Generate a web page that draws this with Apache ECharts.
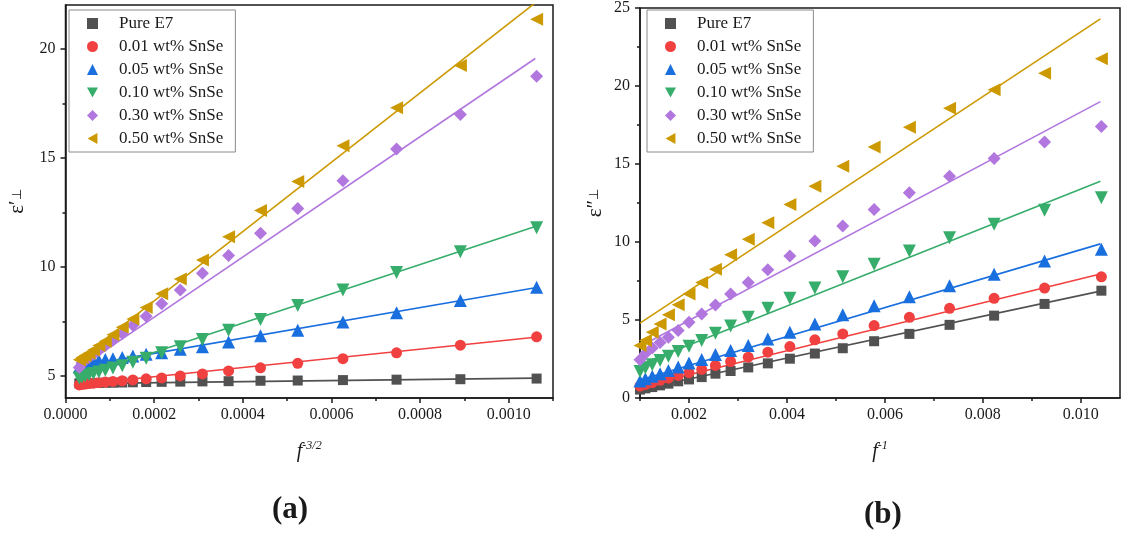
<!DOCTYPE html>
<html>
<head>
<meta charset="utf-8">
<script src="https://cdn.jsdelivr.net/npm/echarts@6/dist/echarts.min.js"></script>
<style>
html,body{margin:0;padding:0;background:#fff;}
#chart{width:1124px;height:535px;}
</style>
</head>
<body>
<div id="chart"></div>
<script>
// ---------- data ----------
const seriesNames = ['Pure E7', '0.01 wt% SnSe', '0.05 wt% SnSe', '0.10 wt% SnSe', '0.30 wt% SnSe', '0.50 wt% SnSe'];
const colors = ['#515151', '#F14040', '#1A6FDF', '#37AD6B', '#B177DE', '#CC9900'];
const symbols = ['rect', 'circle', 'triangle', 'triangle', 'diamond', 'triangle'];
const symbolRotations = [0, 0, 0, 180, 0, 90];
const symbolSizes = [10, 11, 13, 13, 13, 13];
const legendIcons = ['rect', 'circle', 'triangle', 'path://M0,0 L10,0 L5,9 Z', 'diamond', 'path://M9,0 L9,10 L0,5 Z'];

// (a) x = f^-3/2
const xA = [0.001063, 0.000891, 0.000747, 0.000626, 0.000524, 0.00044, 0.000368, 0.000309, 0.000259, 0.000217, 0.000182, 0.000152, 0.000128, 0.000107, 0.0000898, 0.0000753, 0.0000631, 0.0000529, 0.0000443, 0.0000372, 0.0000311];
const aE7  = [4.89, 4.86, 4.84, 4.82, 4.80, 4.79, 4.77, 4.76, 4.75, 4.74, 4.73, 4.72, 4.71, 4.70, 4.70, 4.69, 4.69, 4.68, 4.68, 4.67, 4.67];
const aS01 = [6.80, 6.42, 6.07, 5.80, 5.59, 5.38, 5.24, 5.10, 5.01, 4.92, 4.88, 4.83, 4.79, 4.76, 4.73, 4.70, 4.68, 4.66, 4.64, 4.62, 4.60];
const aS05 = [9.07, 8.47, 7.91, 7.48, 7.10, 6.85, 6.56, 6.35, 6.23, 6.07, 6.00, 5.92, 5.85, 5.80, 5.76, 5.72, 5.68, 5.62, 5.56, 5.50, 5.42];
const aS10 = [11.80, 10.70, 9.75, 8.95, 8.24, 7.60, 7.10, 6.68, 6.35, 6.07, 5.82, 5.64, 5.48, 5.37, 5.27, 5.19, 5.12, 5.06, 5.01, 4.96, 4.92];
const aS30 = [18.74, 16.98, 15.41, 13.95, 12.68, 11.55, 10.53, 9.71, 8.95, 8.32, 7.75, 7.33, 6.95, 6.65, 6.40, 6.18, 6.00, 5.85, 5.72, 5.60, 5.40];
const aS50 = [21.35, 19.23, 17.29, 15.55, 13.92, 12.59, 11.38, 10.32, 9.45, 8.77, 8.15, 7.62, 7.24, 6.90, 6.60, 6.40, 6.20, 6.05, 5.95, 5.85, 5.75];
const fitAX = [0.00003, 0.00106];
const fitAStart = [4.66, 4.62, 5.45, 4.95, 5.36, 5.75];
const fitAEnd   = [4.91, 6.78, 9.05, 11.85, 19.55, 22.1];

// (b) x = f^-1
const xB = [0.01042, 0.00926, 0.00823, 0.00732, 0.0065, 0.00578, 0.00514, 0.00457, 0.00406, 0.00361, 0.00321, 0.00285, 0.00254, 0.00226, 0.002, 0.00178, 0.00158, 0.00141, 0.00125, 0.00111, 0.001];
const bE7  = [6.88, 6.03, 5.28, 4.69, 4.11, 3.64, 3.19, 2.85, 2.52, 2.22, 1.96, 1.73, 1.56, 1.34, 1.19, 1.07, 0.92, 0.81, 0.70, 0.62, 0.54];
const bS01 = [7.77, 7.05, 6.39, 5.75, 5.17, 4.64, 4.11, 3.73, 3.30, 2.94, 2.62, 2.34, 2.09, 1.83, 1.62, 1.45, 1.28, 1.13, 0.98, 0.87, 0.77];
const bS05 = [9.54, 8.79, 7.94, 7.20, 6.49, 5.92, 5.34, 4.75, 4.21, 3.79, 3.37, 3.05, 2.79, 2.47, 2.24, 1.98, 1.77, 1.56, 1.39, 1.24, 1.09];
const bS10 = [12.84, 12.03, 11.13, 10.28, 9.43, 8.58, 7.77, 7.05, 6.39, 5.75, 5.17, 4.62, 4.15, 3.68, 3.32, 2.98, 2.68, 2.41, 2.13, 1.92, 1.70];
const bS30 = [17.41, 16.41, 15.35, 14.22, 13.15, 12.09, 11.03, 10.07, 9.11, 8.22, 7.41, 6.67, 5.96, 5.39, 4.85, 4.32, 3.90, 3.55, 3.20, 2.85, 2.45];
const bS50 = [21.74, 20.82, 19.76, 18.58, 17.35, 16.09, 14.86, 13.58, 12.41, 11.24, 10.18, 9.18, 8.26, 7.41, 6.67, 5.98, 5.34, 4.75, 4.21, 3.68, 3.37];
const fitBX = [0.001, 0.0104];
const fitBStart = [0.55, 0.72, 1.15, 2.15, 3.3, 4.8];
const fitBEnd   = [6.85, 7.95, 9.88, 13.9, 19.0, 24.3];

// tick labels
const aXTicks = [0, 0.0002, 0.0004, 0.0006, 0.0008, 0.0010];
const aXMinor = [0.0001, 0.0003, 0.0005, 0.0007, 0.0009, 0.0011];
const aYTicks = [5, 10, 15, 20];
const aYMinor = [7.5, 12.5, 17.5];
const bXTicks = [0.002, 0.004, 0.006, 0.008, 0.010];
const bXMinor = [0.001, 0.003, 0.005, 0.007, 0.009];
const bYTicks = [0, 5, 10, 15, 20, 25];
const bYMinor = [2.5, 7.5, 12.5, 17.5, 22.5];

// ---------- chart ----------
const FONT = '"Liberation Serif", "Times New Roman", serif';
const ink = '#1a1a1a';
const aY = [aE7, aS01, aS05, aS10, aS30, aS50];
const bY = [bE7, bS01, bS05, bS10, bS30, bS50];

function mainX(grid, min, max, ticks, digits, name) {
  return {
    type: 'value', gridIndex: grid, min: min, max: max, position: 'bottom',
    axisLine: {show: true, onZero: false, lineStyle: {color: ink, width: 1.5}},
    axisTick: {show: true, length: 5, customValues: ticks, lineStyle: {color: ink, width: 1.5}},
    axisLabel: {customValues: ticks, margin: 9, fontFamily: FONT, fontSize: 16, color: ink,
      formatter: v => v.toFixed(digits)},
    splitLine: {show: false},
    name: name, nameLocation: 'middle', nameGap: 42,
    nameTextStyle: {rich: {
      i: {fontFamily: FONT, fontStyle: 'italic', fontSize: 20, color: ink, lineHeight: 24},
      s: {fontFamily: FONT, fontStyle: 'italic', fontSize: 12, color: ink, verticalAlign: 'top', lineHeight: 24, padding: [0,0,10,0]}
    }}
  };
}
function minorX(grid, min, max, ticks) {
  return {
    type: 'value', gridIndex: grid, min: min, max: max, position: 'bottom',
    axisLine: {show: false}, axisLabel: {show: false}, splitLine: {show: false},
    axisTick: {show: true, length: 3, customValues: ticks, lineStyle: {color: ink, width: 1.5}}
  };
}
function mainY(grid, min, max, ticks, name, gap) {
  return {
    type: 'value', gridIndex: grid, min: min, max: max, position: 'left',
    axisLine: {show: true, onZero: false, lineStyle: {color: ink, width: 1.5}},
    axisTick: {show: true, length: 5, customValues: ticks, lineStyle: {color: ink, width: 1.5}},
    axisLabel: {customValues: ticks, margin: 10, fontFamily: FONT, fontSize: 16, color: ink},
    splitLine: {show: false},
    name: name, nameLocation: 'middle', nameGap: gap, nameRotate: 90,
    nameTextStyle: {rich: {
      e: {fontFamily: FONT, fontSize: 21, color: ink, lineHeight: 24},
      s: {fontFamily: FONT, fontSize: 13, color: ink, lineHeight: 24}
    }}
  };
}
function minorY(grid, min, max, ticks) {
  return {
    type: 'value', gridIndex: grid, min: min, max: max, position: 'left',
    axisLine: {show: false}, axisLabel: {show: false}, splitLine: {show: false},
    axisTick: {show: true, length: 3, customValues: ticks, lineStyle: {color: ink, width: 1.5}}
  };
}
function legendAt(left) {
  return {
    data: seriesNames.map((n, k) => ({name: n, icon: legendIcons[k]})),
    orient: 'vertical', left: left, top: 10,
    itemWidth: 11, itemHeight: 11, itemGap: 6,
    padding: [5, 12, 5, 18],
    borderColor: '#8a8a8a', borderWidth: 1,
    textStyle: {fontFamily: FONT, fontSize: 17, color: ink, lineHeight: 17, padding: [0, 0, 0, 16]}
  };
}

const series = [];
function addPanel(xi, yi, xs, ys, fitX, fitS, fitE) {
  for (let k = 0; k < 6; k++) {
    series.push({
      type: 'line', name: 'fit ' + xi + '-' + k, xAxisIndex: xi, yAxisIndex: yi,
      data: [[fitX[0], fitS[k]], [fitX[1], fitE[k]]],
      symbol: 'none', silent: true, clip: true, z: 2,
      lineStyle: {color: colors[k], width: 1.6}
    });
  }
  for (let k = 0; k < 6; k++) {
    series.push({
      type: 'scatter', name: seriesNames[k], xAxisIndex: xi, yAxisIndex: yi,
      data: xs.map((x, i) => [x, ys[k][i]]),
      symbol: symbols[k], symbolSize: symbolSizes[k], symbolRotate: symbolRotations[k],
      itemStyle: {color: colors[k], opacity: 1}, z: 3, clip: false
    });
  }
}
addPanel(0, 0, xA, aY, fitAX, fitAStart, fitAEnd);
addPanel(2, 2, xB, bY, fitBX, fitBStart, fitBEnd);

const option = {
  animation: false,
  backgroundColor: '#ffffff',
  grid: [
    {left: 65.5, right: 1124 - 553, top: 5, bottom: 535 - 398, show: true, borderColor: ink, borderWidth: 1.5},
    {left: 640, right: 1124 - 1120, top: 5, bottom: 535 - 398, show: true, borderColor: ink, borderWidth: 1.5}
  ],
  xAxis: [
    mainX(0, 0, 0.0011, aXTicks, 4, '{i|f}{s|-3/2}'),
    minorX(0, 0, 0.0011, aXMinor),
    mainX(1, 0.001, 0.0108, bXTicks, 3, '{i|f}{s|-1}'),
    minorX(1, 0.001, 0.0108, bXMinor)
  ],
  yAxis: [
    mainY(0, 4, 22, aYTicks, '{e|ε′}{s|⊥}', 36),
    minorY(0, 4, 22, aYMinor),
    mainY(1, 0, 25, bYTicks, '{e|ε″}{s|⊥}', 33),
    minorY(1, 0, 25, bYMinor)
  ],
  legend: [legendAt(69), legendAt(647)],
  graphic: [
    {type: 'text', left: 291 - 19, top: 494, style: {text: '(a)', font: 'bold 31px "Liberation Serif", serif', fill: ink}},
    {type: 'text', left: 883 - 19, top: 499, style: {text: '(b)', font: 'bold 31px "Liberation Serif", serif', fill: ink}}
  ],
  series: series
};
const chart = echarts.init(document.getElementById('chart'), null, {renderer: 'canvas'});
chart.setOption(option);
</script>
</body>
</html>
